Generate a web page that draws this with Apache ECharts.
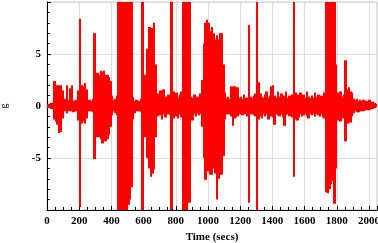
<!DOCTYPE html>
<html>
<head>
<meta charset="utf-8" />
<title>signal</title>
<style>
  html, body { margin: 0; padding: 0; background: #fff; }
  #chart { width: 378px; height: 243px; }
</style>
</head>
<body>
<div id="chart"></div>
<script src="https://cdn.jsdelivr.net/npm/echarts@6/dist/echarts.min.js"></script>
<script>
// envelope of the signal: one max / min per 10 s bin
var binStart = 0, binWidth = 10;
var hiVals = [
  0.2,0.2,0.3,0.3,2.4,1.2,2.0,1.8,2.0,1.5,      // 0-90
  0.5,0.7,2.0,0.6,1.7,2.0,0.5,0.5,0.6,1.5,      // 100-190
  8.4,2.0,1.9,2.2,1.6,0.5,0.6,0.5,0.7,7.0,      // 200-290
  2.5,3.2,3.0,3.4,3.3,3.4,3.0,3.0,2.8,2.4,      // 300-390
  1.0,0.6,0.7,1.0,10,10,10,10,10,10,            // 400-490
  10,10,10,0.9,0.5,0.6,0.5,0.5,0.7,10,          // 500-590
  3.0,3.0,5.5,7.6,7.3,7.5,8.0,4.0,1.2,0.8,      // 600-690
  1.5,0.8,1.6,0.9,0.8,1.1,0.7,10,1.4,0.9,       // 700-790
  1.3,0.8,1.1,1.4,10,10,10,4.0,10,0.9,          // 800-890
  0.8,1.1,0.7,0.9,0.8,1.2,2.5,6.0,8.0,8.3,      // 900-990
  8.0,7.2,7.6,7.0,6.4,6.8,6.4,7.0,7.0,4.0,      // 1000-1090
  1.3,0.8,0.9,0.7,1.9,1.6,1.9,1.4,1.8,0.8,      // 1100-1190
  0.9,0.7,1.1,0.8,0.8,7.8,0.9,0.8,1.0,1.2,      // 1200-1290
  10,2.3,1.2,0.9,0.8,1.1,1.4,0.8,1.0,1.9,       // 1300-1390
  2.0,1.0,0.8,1.4,0.9,1.2,0.8,1.0,1.4,0.8,      // 1400-1490
  1.0,0.8,1.1,10,1.3,1.1,0.9,1.3,0.9,1.1,       // 1500-1590
  0.8,1.4,0.9,0.8,1.0,0.8,1.3,0.9,1.1,0.8,      // 1600-1690
  1.0,0.9,1.3,10,10,10,9.0,10,10,4.0,           // 1700-1790
  1.3,1.0,1.4,0.9,1.1,4.4,1.6,1.8,1.4,1.3,      // 1800-1890
  0.7,0.6,0.7,0.5,0.6,0.5,0.6,0.5,0.5,0.4,      // 1900-1990
  0.6,0.4,0.4,0.3,0.2                           // 2000-2040
];
var loVals = [
  -0.2,-0.2,-0.3,-0.3,-1.3,-1.5,-1.8,-2.6,-2.5,-1.2,
  -0.5,-0.5,-0.7,-0.5,-0.5,-0.5,-0.6,-0.5,-0.5,-1.4,
  -9.7,-1.7,-1.5,-1.7,-1.2,-0.5,-0.5,-0.5,-0.6,-5.1,
  -2.5,-3.0,-3.0,-3.2,-3.6,-3.3,-3.4,-3.2,-2.8,-2.0,
  -0.9,-0.5,-0.7,-0.9,-10,-10,-10,-10,-10,-10,
  -9.5,-9.0,-7.8,-1.3,-0.7,-0.5,-0.5,-0.5,-0.6,-10,
  -3.0,-3.0,-5.0,-6.0,-6.8,-6.5,-6.1,-3.0,-1.0,-0.8,
  -0.9,-1.3,-0.8,-1.1,-0.8,-0.8,-0.9,-10,-1.2,-0.8,
  -1.0,-1.2,-0.8,-1.1,-10,-10,-10,-4.0,-9.3,-0.8,
  -1.4,-0.8,-1.0,-0.7,-0.9,-0.8,-2.0,-5.0,-7.1,-6.0,
  -6.3,-6.6,-6.6,-6.0,-6.5,-9.0,-7.0,-6.6,-6.6,-4.8,
  -1.3,-0.8,-0.8,-0.8,-1.0,-1.9,-1.2,-1.1,-1.0,-0.8,
  -0.7,-0.9,-0.8,-0.8,-1.0,-9.3,-0.8,-0.8,-0.9,-1.0,
  -10,-1.3,-1.0,-1.2,-0.8,-1.0,-0.8,-1.3,-0.9,-1.0,
  -1.1,-1.8,-0.8,-0.9,-1.0,-0.8,-1.1,-1.9,-0.9,-0.8,
  -1.0,-0.9,-1.1,-6.8,-1.3,-1.4,-1.1,-0.8,-1.0,-0.9,
  -0.8,-1.0,-1.2,-0.8,-0.9,-0.8,-1.0,-0.8,-0.9,-1.0,
  -0.8,-1.1,-1.2,-8.3,-8.4,-8.0,-7.5,-7.2,-9.4,-6.0,
  -1.4,-1.0,-1.5,-1.2,-0.9,-3.4,-1.7,-1.3,-1.6,-1.0,
  -0.7,-0.5,-0.6,-0.6,-0.5,-0.5,-0.5,-0.4,-0.4,-0.4,
  -0.4,-0.3,-0.3,-0.2,-0.1
];
var xTickStep = 200, xMax = 2050;
var yTickStep = 5, yMin = -10, yMax = 10;

// one item per bin: [start time, min, max]
var bins = [];
for (var i = 0; i < hiVals.length; i++) {
  bins.push([binStart + i * binWidth, loVals[i], hiVals[i]]);
}

var labelFont = {
  fontFamily: 'Liberation Serif',
  fontWeight: 'bold',
  fontSize: 11,
  color: '#000'
};

// each bin is a red vertical band from min to max, snapped to whole pixels
function renderBin(params, api) {
  var t = api.value(0);
  var top = api.coord([t, api.value(2)]);
  var bot = api.coord([t + binWidth, api.value(1)]);
  var x0 = Math.floor(top[0]);
  var x1 = Math.ceil(bot[0]);
  var rect = echarts.graphic.clipRectByRect({
    x: x0,
    y: top[1],
    width: Math.max(1, x1 - x0),
    height: bot[1] - top[1]
  }, {
    x: params.coordSys.x,
    y: params.coordSys.y,
    width: params.coordSys.width,
    height: params.coordSys.height
  });
  return rect && {
    type: 'rect',
    shape: rect,
    style: { fill: '#ff0000' }
  };
}

var chart = echarts.init(document.getElementById('chart'));
chart.setOption({
  animation: false,
  grid: {
    left: 47, right: 1, top: 2, bottom: 33,
    outerBoundsMode: 'none',
    containLabel: false,
    show: true,
    borderColor: '#c8c8c8',
    borderWidth: 1
  },
  xAxis: {
    type: 'value',
    min: 0,
    max: xMax,
    interval: xTickStep,
    name: 'Time (secs)',
    nameLocation: 'middle',
    nameGap: 11,
    nameTextStyle: labelFont,
    axisLine: { onZero: false, lineStyle: { color: '#000', width: 1 } },
    axisTick: { inside: true, length: 4, lineStyle: { color: '#000' } },
    minorTick: { show: true, splitNumber: 4, length: 3, lineStyle: { color: '#000' } },
    axisLabel: Object.assign({
      margin: 6,
      showMaxLabel: false,
      formatter: function (v) { return String(v); }
    }, labelFont),
    splitLine: { show: true, lineStyle: { color: '#dcdcdc', width: 1 } }
  },
  yAxis: {
    type: 'value',
    min: yMin,
    max: yMax,
    interval: yTickStep,
    name: 'g',
    nameLocation: 'middle',
    nameRotate: 90,
    nameGap: 38,
    nameTextStyle: { fontFamily: 'Liberation Serif', fontSize: 10, color: '#000' },
    axisLine: { show: true, lineStyle: { color: '#000', width: 1 } },
    axisTick: { inside: true, length: 4, lineStyle: { color: '#000' } },
    minorTick: { show: true, splitNumber: 5, length: 3, lineStyle: { color: '#000' } },
    axisLabel: Object.assign({
      margin: 6,
      formatter: function (v) { return Math.abs(v) === 10 ? '' : String(v); }
    }, labelFont),
    splitLine: { show: true, lineStyle: { color: '#dcdcdc', width: 1 } }
  },
  series: [{
    type: 'custom',
    renderItem: renderBin,
    data: bins,
    encode: { x: 0, y: [1, 2] }
  }]
});
</script>
</body>
</html>
